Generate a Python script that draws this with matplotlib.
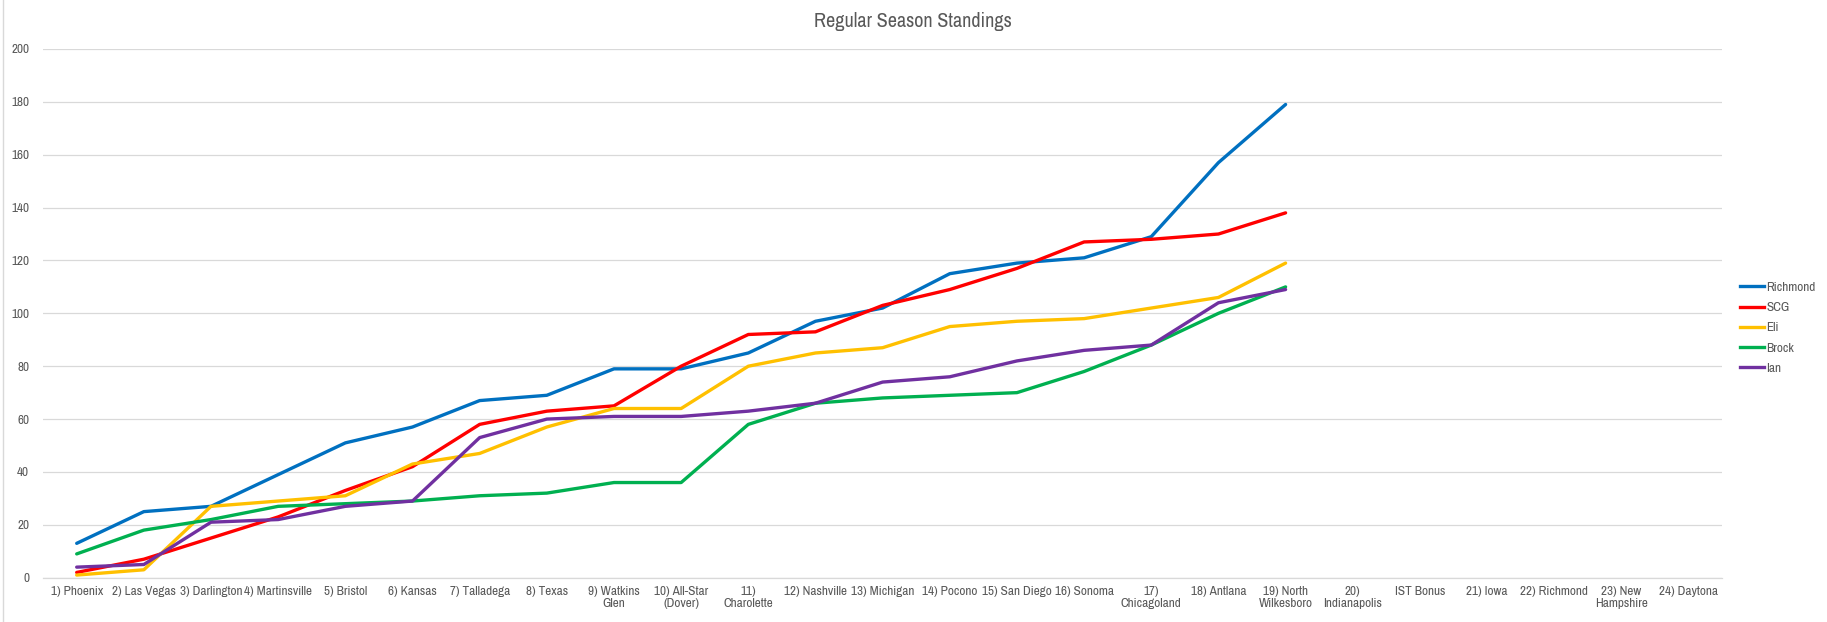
import numpy as np
import matplotlib
matplotlib.use("Agg")
import matplotlib.pyplot as plt
from matplotlib.lines import Line2D

nan = np.nan

races = [
    "1) Phoenix", "2) Las Vegas", "3) Darlington", "4) Martinsville", "5) Bristol",
    "6) Kansas", "7) Talladega", "8) Texas", "9) Watkins\nGlen", "10) All-Star\n(Dover)",
    "11)\nCharolette", "12) Nashville", "13) Michigan", "14) Pocono", "15) San Diego",
    "16) Sonoma", "17)\nChicagoland", "18) Antlana", "19) North\nWilkesboro",
    "20)\nIndianapolis", "IST Bonus", "21) Iowa", "22) Richmond", "23) New\nHampshire",
    "24) Daytona",
]

richmond = [13, 25, 27, 39, 51, 57, 67, 69, 79, 79, 85, 97, 102, 115, 119, 121, 129, 157, 179,
            nan, nan, nan, nan, nan, nan]
scg = [2, 7, 15, 23, 33, 42, 58, 63, 65, 80, 92, 93, 103, 109, 117, 127, 128, 130, 138,
       nan, nan, nan, nan, nan, nan]
eli = [1, 3, 27, 29, 31, 43, 47, 57, 64, 64, 80, 85, 87, 95, 97, 98, 102, 106, 119,
       nan, nan, nan, nan, nan, nan]
brock = [9, 18, 22, 27, 28, 29, 31, 32, 36, 36, 58, 66, 68, 69, 70, 78, 88, 100, 110,
         nan, nan, nan, nan, nan, nan]
ian = [4, 5, 21, 22, 27, 29, 53, 60, 61, 61, 63, 66, 74, 76, 82, 86, 88, 104, 109,
       nan, nan, nan, nan, nan, nan]

series = [
    ("Richmond", richmond, "#0070C0"),
    ("SCG", scg, "#FF0000"),
    ("Eli", eli, "#FFC000"),
    ("Brock", brock, "#00B050"),
    ("Ian", ian, "#7030A0"),
]

plt.rcParams["font.family"] = ["Archivo Narrow", "DejaVu Sans"]
text_color = "#595959"
grid_color = "#D9D9D9"

fig = plt.figure(figsize=(18.27, 6.22), dpi=100)
ax = fig.add_axes([0.0236, 0.0712, 0.919, 0.8501])

x = np.arange(len(races))
for name, vals, color in series:
    ax.plot(x, vals, color=color, lw=2.4, label=name, solid_capstyle="round")

ax.set_xlim(-0.5, len(races) - 0.5)
ax.set_ylim(0, 200)
ax.set_yticks(range(0, 201, 20))
ax.set_xticks(x)
ax.set_xticklabels(races, fontsize=9.5, color=text_color, linespacing=1.15)
ax.tick_params(axis="y", labelsize=9.5, labelcolor=text_color, length=0, pad=10)
ax.tick_params(axis="x", length=0, pad=6)
ax.grid(axis="y", color=grid_color, lw=0.9)
ax.set_axisbelow(True)
for side in ["top", "right", "left"]:
    ax.spines[side].set_visible(False)
ax.spines["bottom"].set_color(grid_color)
ax.spines["bottom"].set_linewidth(0.9)

fig.text(0.4995, 0.965, "Regular Season Standings", ha="center", va="center",
         fontsize=14.5, color=text_color)

handles = [Line2D([0], [0], color=c, lw=2.4) for _, _, c in series]
fig.legend(handles, [n for n, _, _ in series], loc="center left",
           bbox_to_anchor=(0.946, 0.473), frameon=False, fontsize=9.5,
           labelcolor=text_color, handlelength=1.8, handletextpad=0.2,
           labelspacing=0.68)

# chart frame edge on the left
fig.add_artist(Line2D([0.0015, 0.0015], [0.0, 1.0], color=grid_color, lw=1.0,
                      transform=fig.transFigure))

fig.savefig("out.png", dpi=100, facecolor="white")
